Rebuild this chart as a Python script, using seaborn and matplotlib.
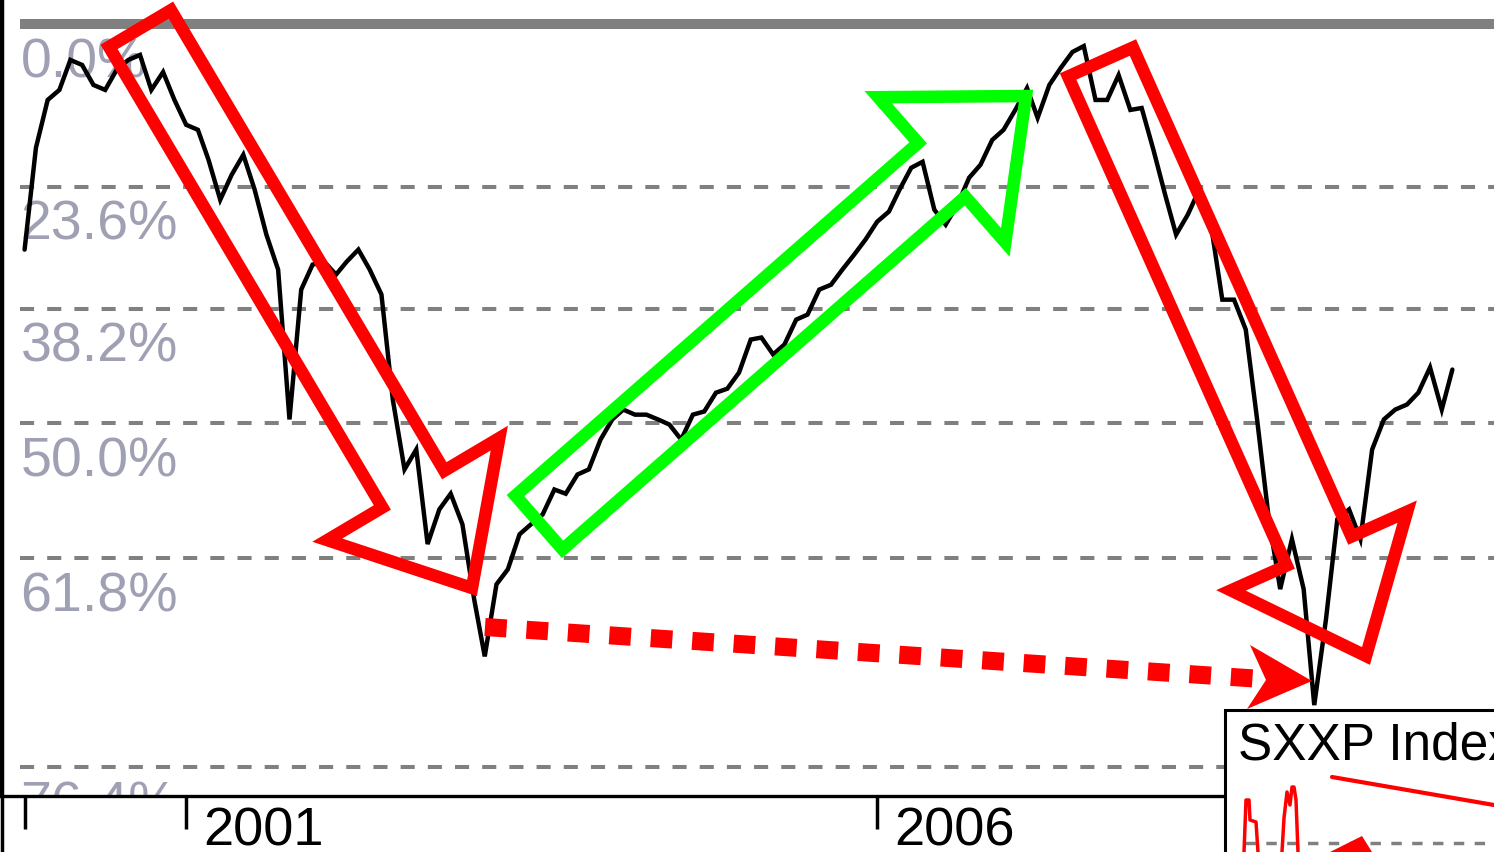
import pandas as pd
import seaborn as sns
import matplotlib
matplotlib.use("Agg")
import matplotlib.pyplot as plt
from matplotlib import transforms as mtransforms
from matplotlib.patches import FancyArrow, Polygon, Rectangle
from matplotlib.lines import Line2D
from matplotlib.ticker import NullLocator

# SXXP monthly closes, Nov 1999 .. Mar 2010
first_month = "1999-11-01"
sxxp_close = [
    297.6, 340.1, 362.1, 366.9, 381.6, 379.1, 369.3, 366.9, 376.6, 381.6,
    384.1, 366.9, 375.6, 362.1, 350.5, 348.2, 334.8, 317.7, 328.2, 337.0,
    321.9, 303.5, 289.9, 238.2, 282.4, 291.8, 292.9, 288.0, 292.9, 297.6,
    289.9, 280.6, 244.5, 223.1, 229.0, 202.3, 211.7, 216.1, 207.6, 188.2,
    174.6, 191.9, 195.7, 204.9, 207.6, 210.3, 217.3, 216.1, 221.6, 223.1,
    232.0, 238.2, 241.3, 239.7, 239.7, 238.2, 236.6, 232.0, 239.7, 240.7,
    246.7, 248.0, 253.3, 264.5, 265.2, 259.4, 262.8, 271.5, 273.3, 282.4,
    284.2, 289.9, 295.6, 301.5, 308.7, 312.8, 321.9, 331.3, 333.9, 313.6,
    307.5, 315.6, 327.0, 332.6, 343.6, 348.2, 357.4, 367.8, 353.7, 369.3,
    377.6, 385.6, 388.6, 362.1, 362.1, 374.1, 357.4, 358.3, 339.2, 319.8,
    303.5, 311.6, 321.9, 307.5, 278.7, 278.7, 268.0, 238.2, 209.0, 190.7,
    203.6, 190.7, 163.8, 183.3, 209.0, 211.7, 203.6, 229.0, 238.2, 241.3,
    242.9, 246.7, 255.0, 241.3, 254.3,
]

# Fibonacci retracement drawn from the 2000 high
fib_high = 400.0
fib_low = 74.0
fib_pct = [0.0, 23.6, 38.2, 50.0, 61.8, 76.4]
fib_labels = ["0.0%", "23.6%", "38.2%", "50.0%", "61.8%", "76.4%"]

tick_dates = ["1999-11-01", "2001-01-01", "2006-01-01"]
tick_labels = ["", "2001", "2006"]

W, H, DPI = 1494, 852, 100

sns.set_style("white")
plt.rcParams["font.family"] = ["Liberation Sans", "DejaVu Sans"]

fig = plt.figure(figsize=(W / DPI, H / DPI), dpi=DPI)
ax = fig.add_axes([1.5 / W, 56 / H, 1 - 1.5 / W, 796 / H])

# transform in screenshot pixels (origin top-left) for the hand-drawn markup
px = mtransforms.Affine2D().scale(1 / DPI, -1 / DPI).translate(0, H / DPI) + fig.dpi_scale_trans

df = pd.DataFrame({
    "date": pd.date_range(first_month, periods=len(sxxp_close), freq="MS"),
    "close": sxxp_close,
})
sns.lineplot(data=df, x="date", y="close", ax=ax, color="black", zorder=3)
for ln in ax.lines:
    ln.set_linewidth(3.2)
    ln.set_solid_joinstyle("miter")

ax.set_yscale("log")
ax.set_ylim(145.4, 412.8)
ax.set_xlim(pd.Timestamp("1999-09-01"), pd.Timestamp("2010-06-19"))
ax.yaxis.set_major_locator(NullLocator())
ax.yaxis.set_minor_locator(NullLocator())
ax.set_xlabel("")
ax.set_ylabel("")

# retracement levels
for pct, lab in zip(fib_pct, fib_labels):
    lvl = fib_high - pct / 100 * (fib_high - fib_low)
    if pct == 0:
        ax.axhline(lvl, xmin=0.0124, color="#808080", lw=7.2, zorder=1, solid_capstyle="butt")
    else:
        ax.axhline(lvl, xmin=0.0124, color="#808080", lw=2.9, ls=(0, (3.5, 3.25)), zorder=1)
    ax.annotate(lab, xy=(0, lvl), xycoords=("axes fraction", "data"),
                xytext=(19, -13), textcoords="offset pixels", ha="left", va="top",
                fontsize=40, color="#a0a0b4", clip_on=True, zorder=2)

# x axis: year ticks with labels to the right of the tick
ax.set_xticks(pd.to_datetime(tick_dates))
ax.set_xticklabels(tick_labels)
ax.xaxis.set_minor_locator(NullLocator())
ax.tick_params(axis="x", which="major", direction="out", length=23.8, width=2.5,
               color="black", pad=-16, labelsize=39, labelcolor="black", bottom=True)
shift = mtransforms.ScaledTranslation(17 / DPI, 0, fig.dpi_scale_trans)
for t in ax.get_xticklabels():
    t.set_horizontalalignment("left")
    t.set_transform(t.get_transform() + shift)

for side in ["top", "right"]:
    ax.spines[side].set_visible(False)
ax.spines["left"].set_color("black")
ax.spines["left"].set_linewidth(2.5)
ax.spines["bottom"].set_color("black")
ax.spines["bottom"].set_linewidth(2.4)
fig.add_artist(Line2D([1.5, 1.5], [0, H], transform=px, color="black", lw=2.5))

# hand-drawn block arrows: (x, y, dx, dy, width, head width, head length), pixels
red_arrows = [
    (140, 28.5, 332, 559.5, 72, 200, 115),
    (1100.5, 62, 265.5, 594, 71, 193, 115),
]
green_arrow = (539, 522.5, 487, -426.5, 71.5, 193, 112)

for (x, y, dx, dy, w, hw, hl), col in [(a, "#ff0000") for a in red_arrows] + [(green_arrow, "#00ff00")]:
    fig.add_artist(FancyArrow(x, y, dx, dy, width=w, head_width=hw, head_length=hl,
                              length_includes_head=True, fill=False, edgecolor=col,
                              lw=9, joinstyle="miter", transform=px, zorder=5))

# dotted arrow from the 2003 low to the 2009 low
fig.add_artist(Line2D([485, 1262], [627, 679], transform=px, color="#ff0000", lw=13,
                      ls=(0, (1.2, 1.1)), dash_capstyle="butt", zorder=5))
fig.add_artist(Polygon([(1312, 681), (1250, 645), (1266, 680), (1247, 709)], closed=True,
                       facecolor="#ff0000", edgecolor="none", transform=px, zorder=5))

# legend / thumbnail box
fig.add_artist(Rectangle((1225, 710), 300, 200, facecolor="white", edgecolor="black",
                         lw=2.2, transform=px, zorder=6))
fig.text(1238, 722, "SXXP Index", transform=px, fontsize=37, va="top", ha="left",
         color="black", zorder=7)
fig.add_artist(Line2D([1332, 1494], [777, 805], transform=px, color="#ff0000", lw=3, zorder=7))
fig.add_artist(Line2D([1245, 1494], [843, 843], transform=px, color="#808080", lw=2.5,
                      ls=(0, (3, 3)), zorder=7))
fig.add_artist(Line2D([1244, 1246, 1249, 1250, 1256, 1258], [852, 800, 800, 820, 822, 852],
                      transform=px, color="#ff0000", lw=2.5, zorder=7))
fig.add_artist(Line2D([1282, 1284, 1287, 1290, 1292, 1294, 1296, 1298],
                      [852, 818, 792, 805, 787, 787, 800, 852],
                      transform=px, color="#ff0000", lw=2.5, zorder=7))
fig.add_artist(Polygon([(1330, 852), (1362, 836), (1372, 852)], closed=True,
                       facecolor="#ff0000", edgecolor="none", transform=px, zorder=7))

fig.savefig("out.png", dpi=DPI)
